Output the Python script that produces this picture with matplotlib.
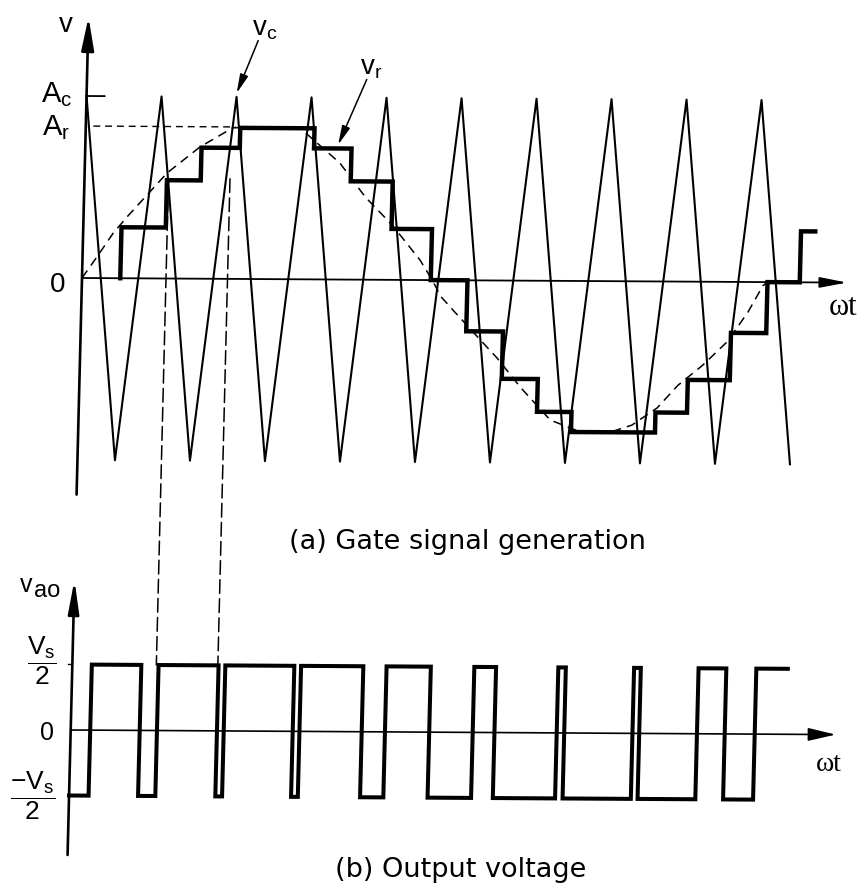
import numpy as np
import matplotlib.pyplot as plt
from matplotlib.transforms import Affine2D
from matplotlib.patches import ConnectionPatch

plt.rcParams['font.family'] = 'Liberation Sans'
plt.rcParams['mathtext.default'] = 'regular'

# time axis in carrier periods, amplitudes normalised to A_c = 1
carrier_t = [0, 0.5, 1, 1.5, 2, 2.5, 3, 3.5, 4, 4.5, 5, 5.5, 6, 6.5, 7, 7.5, 8, 8.5, 9, 9.5]
carrier_v = [1, -1, 1, -1, 1, -1, 1, -1, 1, -1, 1, -1, 1, -1, 1, -1, 1, -1, 1, -1]
A_c = 1.0
A_r = 0.835

# reference wave v_r (dashed)
ref_t = [0, 0.19, 0.40, 0.58, 1.10, 1.53, 1.96, 2.40, 2.86, 3.40, 3.75, 4.12, 4.50, 4.67,
         4.79, 4.97, 5.37, 5.56, 5.89, 6.29, 6.70, 7.05, 7.38, 7.71, 7.98, 8.30, 8.62, 8.89,
         9.08, 9.14]
ref_v = [0, 0.115, 0.247, 0.337, 0.58, 0.724, 0.83, 0.835, 0.83, 0.64, 0.454, 0.30, 0.11, 0,
         -0.09, -0.17, -0.344, -0.426, -0.59, -0.765, -0.83, -0.835, -0.79, -0.695, -0.57,
         -0.46, -0.33, -0.165, -0.02, 0]

# sampled reference (staircase): instant of each step and level after it
step_t = [0.51, 1.10, 1.55, 2.06, 3.05, 3.55, 4.11, 4.65, 5.14, 5.63, 6.11, 6.57, 7.69,
          8.11, 8.67, 9.14, 9.57]
step_v = [0.28, 0.54, 0.72, 0.83, 0.72, 0.54, 0.28, 0, -0.28, -0.54, -0.72, -0.83, -0.72,
          -0.54, -0.28, 0, 0.28]
step_end = 9.76

# output voltage v_ao (units of V_s): switching instants and levels
edge_t = [0.26, 0.92, 1.15, 1.95, 2.04, 2.96, 3.05, 3.88, 4.19, 4.78, 5.36, 5.65, 6.48,
          6.58, 7.49, 7.58, 8.35, 8.72, 9.12]
out_v = [-0.5, 0.5, -0.5, 0.5, -0.5, 0.5, -0.5, 0.5, -0.5, 0.5, -0.5, 0.5, -0.5, 0.5,
         -0.5, 0.5, -0.5, 0.5, -0.5, 0.5]
out_end = 9.54

# instants carried down from (a) to (b)
marks_t = [1.12, 1.94]

W, H = 864, 891
T0, PX_T = 82, 75  # pixel of t = 0, pixels per carrier period

fig = plt.figure(figsize=(W / 100, H / 100), dpi=100)


def make_axes(zero_row, px_v, xlim, ylim):
    left = T0 + xlim[0] * PX_T
    bottom = (H - zero_row) + ylim[0] * px_v
    ax = fig.add_axes([left / W, bottom / H,
                       (xlim[1] - xlim[0]) * PX_T / W, (ylim[1] - ylim[0]) * px_v / H])
    ax.set_autoscale_on(False)
    ax.set_xlim(*xlim)
    ax.set_ylim(*ylim)
    ax.axis('off')
    return ax


ax1 = make_axes(278, 182, (-0.5, 10.3), (-1.4, 1.5))
ax2 = make_axes(730, 131, (-0.5, 10.3), (-1.1, 1.3))

# slight lean of the whole drawing
lean = (Affine2D().translate(-T0, -613)
        .skew(np.arctan(0.025), np.arctan(-0.006)).translate(T0, 613))
tr1 = ax1.transData + lean
tr2 = ax2.transData + lean

K = dict(color='black', clip_on=False)


def axis_arrow(ax, tr, start, tip, lw, hl, hw):
    ax.annotate('', xy=tip, xycoords=tr, xytext=start, textcoords=tr,
                arrowprops=dict(arrowstyle=f'-|>,head_length={hl},head_width={hw}',
                                color='black', lw=lw, shrinkA=0, shrinkB=0,
                                mutation_scale=10))


# ---- (a) gate signal generation ----
axis_arrow(ax1, tr1, (0, -1.19), (0, 1.434), 1.9, 2.0, 0.38)
axis_arrow(ax1, tr1, (0, 0), (10.2, 0), 1.3, 1.65, 0.32)

ax1.plot(carrier_t, carrier_v, lw=1.5, transform=tr1, **K)
ax1.plot(ref_t, ref_v, lw=1.1, ls=(0, (6, 4)), transform=tr1, **K)
st = [step_t[0]] + step_t + [step_end]
sv = [0] + step_v + [step_v[-1]]
ax1.step(st, sv, where='post', lw=3.2, transform=tr1, solid_joinstyle='miter', **K)

ax1.plot([0, 0.24], [A_c, A_c], lw=1.3, transform=tr1, **K)
ax1.plot([0.1, 2.0], [A_r, A_r], lw=1.0, ls=(0, (5, 3.5)), transform=tr1, **K)

ax1.annotate('v', xy=(0, 1.434), xycoords=tr1, xytext=(-11.5, -10.8),
             textcoords='offset points', ha='right', va='baseline', fontsize=20)
ax1.annotate('$A_c$', xy=(0, A_c), xycoords=tr1, xytext=(-10.4, -4.5),
             textcoords='offset points', ha='right', va='baseline', fontsize=21)
ax1.annotate('$A_r$', xy=(0, A_r), xycoords=tr1, xytext=(-11.4, -6.5),
             textcoords='offset points', ha='right', va='baseline', fontsize=21)
ax1.annotate('0', xy=(0, 0), xycoords=tr1, xytext=(-12.2, -10),
             textcoords='offset points', ha='right', va='baseline', fontsize=20)
ax1.annotate('ωt', xy=(10.2, 0), xycoords=tr1, xytext=(-13, -23.3),
             textcoords='offset points', ha='left', va='baseline', fontsize=22,
             family='Liberation Serif')

ax1.annotate('', xy=(2.0, 1.02), xycoords=tr1, xytext=(2.27, 1.31), textcoords=tr1,
             arrowprops=dict(arrowstyle='-|>,head_length=1.15,head_width=0.25',
                             color='black', lw=1.1, shrinkA=0, shrinkB=0,
                             mutation_scale=10))
ax1.text(2.35, 1.376, '$v_c$', transform=tr1, ha='center', va='center', fontsize=20)
ax1.annotate('', xy=(3.37, 0.74), xycoords=tr1, xytext=(3.73, 1.10), textcoords=tr1,
             arrowprops=dict(arrowstyle='-|>,head_length=1.15,head_width=0.25',
                             color='black', lw=1.1, shrinkA=0, shrinkB=0,
                             mutation_scale=10))
ax1.text(3.79, 1.162, '$v_r$', transform=tr1, ha='center', va='center', fontsize=20)

# ---- (b) output voltage ----
axis_arrow(ax2, tr2, (0, -0.954), (0, 1.145), 1.9, 2.0, 0.33)
axis_arrow(ax2, tr2, (0, 0), (10.2, 0), 1.2, 1.7, 0.4)

ot = [0] + edge_t + [out_end]
ov = out_v + [out_v[-1]]
ax2.step(ot, ov, where='post', lw=2.9, transform=tr2, solid_joinstyle='miter', **K)
ax2.plot([-0.05, 0], [0.5, 0.5], lw=1.0, transform=tr2, **K)

ax2.annotate('v', xy=(0, 1.145), xycoords=tr2, xytext=(-30.6, -8.6),
             textcoords='offset points', ha='right', va='baseline', fontsize=18)
ax2.annotate('ao', xy=(0, 1.145), xycoords=tr2, xytext=(-10.4, -12.2),
             textcoords='offset points', ha='right', va='baseline', fontsize=17)
ax2.annotate(r'$\dfrac{V_s}{2}$', xy=(0, 0.5), xycoords=tr2, xytext=(-11, 3),
             textcoords='offset points', ha='right', va='center', fontsize=19)
ax2.annotate('0', xy=(0, 0), xycoords=tr2, xytext=(-12, -2),
             textcoords='offset points', ha='right', va='center', fontsize=18)
ax2.annotate(r'$\dfrac{-V_s}{2}$', xy=(0, -0.5), xycoords=tr2, xytext=(-10, 0),
             textcoords='offset points', ha='right', va='center', fontsize=19)
ax2.annotate('ωt', xy=(10.2, 0), xycoords=tr2, xytext=(-14.4, -26),
             textcoords='offset points', ha='left', va='baseline', fontsize=20,
             family='Liberation Serif')

for tm in marks_t:
    fig.add_artist(ConnectionPatch(xyA=(tm, 0.55), coordsA=tr1, xyB=(tm, 0.5), coordsB=tr2,
                                   color='black', lw=1.1, linestyle=(0, (9, 3.5))))

fig.text(467 / W, 1 - 549 / H, '(a) Gate signal generation', ha='center', va='baseline',
         fontsize=19.5, family='DejaVu Sans')
fig.text(461 / W, 1 - 877 / H, '(b) Output voltage', ha='center', va='baseline',
         fontsize=19.5, family='DejaVu Sans')

fig.savefig('out.png', dpi=100, facecolor='white')
